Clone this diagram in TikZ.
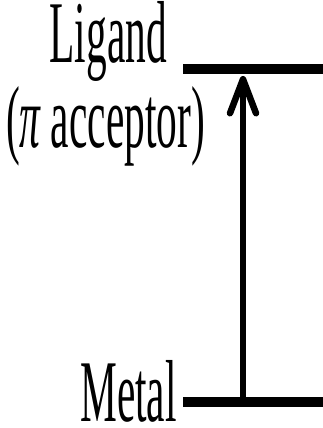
\documentclass[tikz,border=0pt]{standalone}
\usepackage{fontspec}
\setmainfont{Liberation Serif}
\usetikzlibrary{arrows.meta}
\tikzset{
  lbl/.style={inner sep=0pt, anchor=base east, font=\fontsize{88}{92}\selectfont},
  level/.style={line width=10pt},
  trans/.style={line width=6.5pt, -{Straight Barb[length=34pt,width=26pt,round]}}
}
\newcommand{\squish}[1]{\scalebox{0.47}[1]{#1}}
\begin{document}
\begin{tikzpicture}[x=1pt,y=-1pt]
\useasboundingbox (0,0) rectangle (323,428);
\node[lbl] (lig) at (167,63) {\squish{Ligand}};
\node[lbl] (acc) at (205,147) {\squish{({\itshape π} acceptor)}};
\node[lbl] (met) at (177,421) {\squish{Metal}};
\coordinate (L1) at (183,69);
\coordinate (L2) at (330,69);
\coordinate (M1) at (183,402);
\coordinate (M2) at (330,402);
\coordinate (A0) at (243,402);
\coordinate (A1) at (243,76);
\draw[level] (L1) -- (L2);
\draw[level] (M1) -- (M2);
\draw[trans] (A0) -- (A1);
\end{tikzpicture}
\end{document}
